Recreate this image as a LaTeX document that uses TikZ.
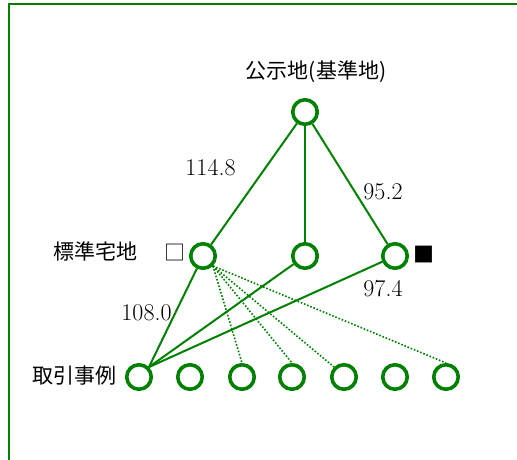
\documentclass[tikz,border=0pt]{standalone}
\usepackage{fontspec}
\newfontfamily\jp{Noto Sans CJK JP}
\definecolor{grn}{RGB}{0,128,0}
\begin{document}
\begin{tikzpicture}[x=1pt,y=-1pt,
  site/.style={circle,draw=grn,line width=3.6pt,minimum size=24.5pt,inner sep=0pt},
  link/.style={draw=grn,line width=2pt},
  dotlink/.style={draw=grn,line width=1.6pt,dash pattern=on 1.6pt off 1.8pt},
  num/.style={inner sep=0pt,font=\fontsize{24}{28}\selectfont},
  jlab/.style={inner sep=0pt,font=\jp\fontsize{21}{25}\selectfont},
  frame/.style={draw=grn,line width=2pt}]
\useasboundingbox (0,0) rectangle (517,459);
\coordinate (ftr) at (520,4);
\coordinate (ftl) at (9,4);
\coordinate (fbl) at (9,462);
\draw[frame] (ftr) -- (ftl) -- (fbl);

\node[site] (top) at (305,112) {};
\node[site] (a1) at (203,256) {};
\node[site] (a2) at (305,256) {};
\node[site] (a3) at (395,256) {};
\foreach \i/\x in {1/139,2/190,3/242,4/292,5/344,6/395,7/446}
  \node[site] (b\i) at (\x,377) {};

\draw[link] (top) -- (a1);
\draw[link] (top) -- (a2);
\draw[link] (top) -- (a3);
\draw[link] (a1) -- (b1.north east);
\draw[link] (a2) -- (b1.north east);
\draw[link] (a3) -- (b1.north east);
\draw[dotlink] (a1.south east) -- (b3.north);
\draw[dotlink] (a1.south east) -- (b4.north);
\draw[dotlink] (a1.south east) -- (b5.north west);
\draw[dotlink] (a1.south east) -- (b7.north);

\node[jlab] (tl) at (316,72) {公示地(基準地)};
\node[jlab] (ml) at (95,251) {標準宅地};
\node[jlab] (bl) at (74,376) {取引事例};
\node[jlab] (wsq) at (175,253) {□};
\node[jlab] (bsq) at (424,255) {■};

\node[num] (n1) at (210.5,168) {114.8};
\node[num] (n2) at (383,191.5) {95.2};
\node[num] (n3) at (146.5,312.5) {108.0};
\node[num] (n4) at (383,289) {97.4};
\end{tikzpicture}
\end{document}
